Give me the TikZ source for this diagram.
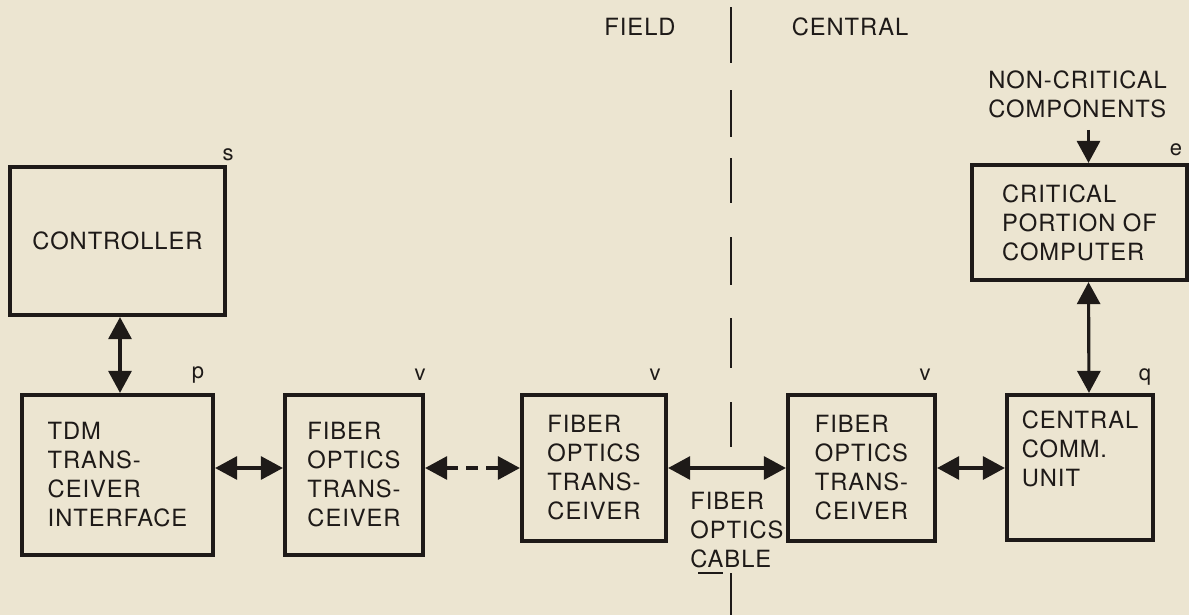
\documentclass[tikz,border=0pt]{standalone}
\usepackage{fontspec}
\setmainfont{TeX Gyre Heros}[LetterSpace=4]
\usepackage{tikz}
\usetikzlibrary{arrows.meta,positioning,calc}
\definecolor{paper}{RGB}{236,229,209}
\definecolor{ink}{RGB}{30,26,24}

\begin{document}
\begin{tikzpicture}[x=0.2mm,y=-0.2mm,every node/.style={font=\fontsize{13.5}{16.5}\selectfont,text=ink},
  box/.style={draw=ink,line width=2.4pt,align=left,inner sep=0pt},
  tag/.style={font=\fontsize{12.5}{13}\selectfont},
  dbl/.style={draw=ink,line width=1.8pt,{Triangle[length=4.4mm,width=4.6mm]}-{Triangle[length=4.4mm,width=4.6mm]}},
  sgl/.style={draw=ink,line width=1.8pt,-{Triangle[length=4.4mm,width=4.6mm]}},
  divider/.style={draw=ink,line width=1.4pt}]
\fill[paper] (0,0) rectangle (1189,615);
\useasboundingbox (0,0) rectangle (1189,615);
% field / central split
\node (field) at (640,27) {FIELD};
\node (central) at (850,27) {CENTRAL};
\foreach \a/\b in {7/63,90/137,158/203,237/285,318/368,402/447,573/615}
  \draw[divider] (731,\a) -- (731,\b);
% blocks
\node[box,minimum width=43mm,minimum height=29.6mm,align=center] (ctrl) at (117.5,241) {CONTROLLER};
\node[box,minimum width=38.2mm,minimum height=32mm] (tdm) at (117.5,475) {TDM\\TRANS-\\CEIVER\\INTERFACE};
\node[box,minimum width=27.6mm,minimum height=32mm] (fo1) at (354,475) {FIBER\\OPTICS\\TRANS-\\CEIVER};
\node[box,minimum width=28.8mm,minimum height=29.2mm] (fo2) at (594,468) {FIBER\\OPTICS\\TRANS-\\CEIVER};
\node[box,minimum width=29.4mm,minimum height=29.2mm] (fo3) at (861.5,468) {FIBER\\OPTICS\\TRANS-\\CEIVER};
\node[box,minimum width=29.2mm,minimum height=29mm] (ccu) at (1080,467.5) {CENTRAL\\COMM.\\UNIT\\\strut};
\node[box,minimum width=43mm,minimum height=23mm] (crit) at (1079.5,222.5) {CRITICAL\\PORTION OF\\COMPUTER};
\node[anchor=west,align=left,inner sep=0pt] (noncrit) at (988,94) {NON-CRITICAL\\COMPONENTS};
\node[anchor=west,align=left,inner sep=0pt] (cable) at (690,530) {FIBER\\OPTICS\\CABLE};
% small marks
\node[tag] (ts) at (228,155) {s};
\node[tag] (tp) at (198,375) {p};
\node[tag] (tv1) at (420,375) {v};
\node[tag] (tv2) at (655,375) {v};
\node[tag] (tv3) at (925,375) {v};
\node[tag] (tq) at (1145,377) {q};
\node[tag] (te) at (1176,150) {e};
% links
\coordinate (crittop) at ([xshift=1.8mm]crit.north);
\draw[dbl] ([xshift=0.5mm]ctrl.south) -- ([xshift=0.5mm]tdm.north);
\draw[dbl] (tdm.east |- fo2.west) -- (fo1.west |- fo2.west);
\draw[dbl,dash pattern=on 2.4mm off 1.6mm] (fo1.east |- fo2.west) -- (fo2.west);
\draw[dbl] (fo2.east) -- (fo3.west);
\draw[dbl] (fo3.east) -- (ccu.west |- fo3.east);
\draw[dbl] ([xshift=1.8mm]crit.south) -- ([xshift=1.8mm]ccu.north);
\draw[sgl] (noncrit.south -| crittop) ++(0,12) -- (crittop);
\draw[ink,line width=1pt] (698,573) -- (723,573);
\end{tikzpicture}
\end{document}
